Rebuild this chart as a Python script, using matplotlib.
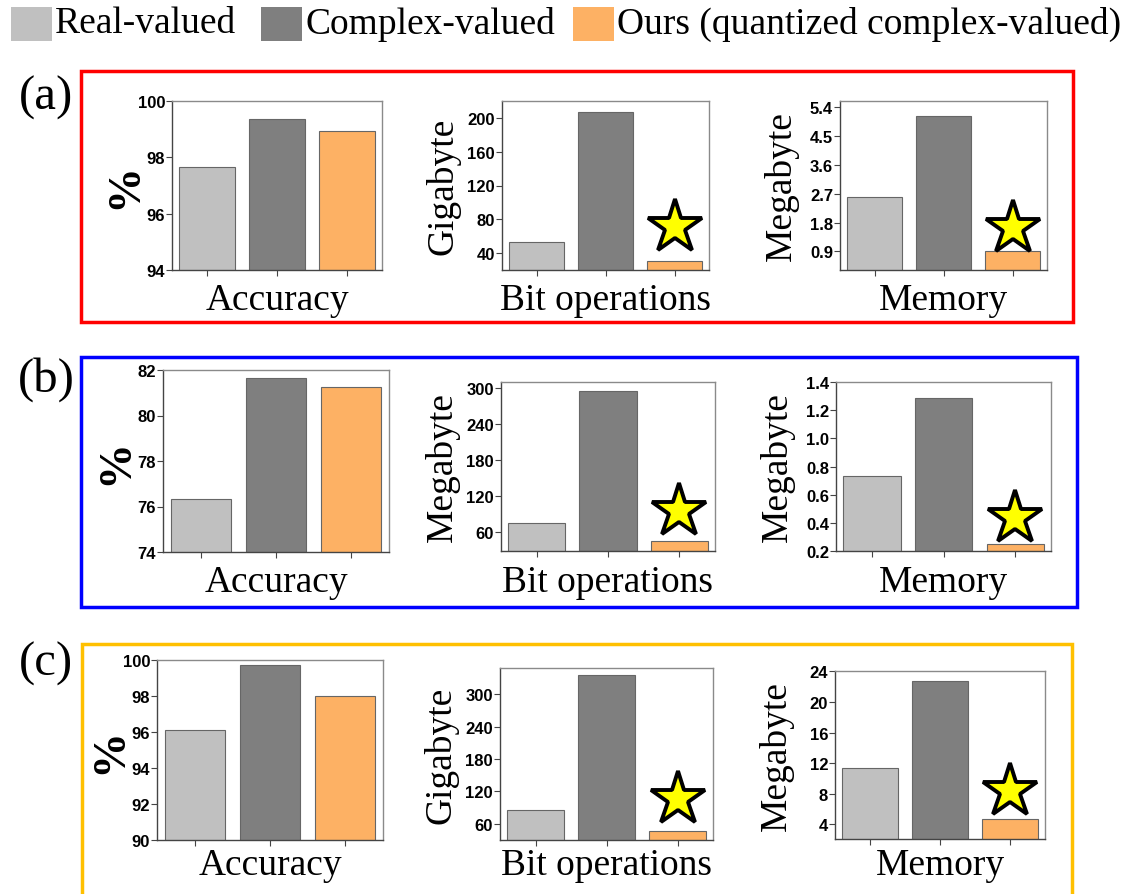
import numpy as np
import matplotlib
matplotlib.use("Agg")
import matplotlib.pyplot as plt
from matplotlib.patches import Rectangle
import matplotlib.transforms as mtransforms

## data
methods = ["Real-valued", "Complex-valued", "Ours (quantized complex-valued)"]
colors = ["#c0c0c0", "#7f7f7f", "#fdb164"]
metrics = ["Accuracy", "Bit operations", "Memory"]

acc_a = [97.66, 99.37, 98.93]
bitops_a = [53.3, 207.0, 31.0]
mem_a = [2.60, 5.13, 0.91]

acc_b = [76.31, 81.66, 81.25]
bitops_b = [75.0, 295.6, 44.0]
mem_b = [0.736, 1.287, 0.247]

acc_c = [96.09, 99.72, 97.98]
bitops_c = [85.2, 335.7, 46.5]
mem_c = [11.44, 22.72, 4.69]

units_a = ["%", "Gigabyte", "Megabyte"]
units_b = ["%", "Megabyte", "Megabyte"]
units_c = ["%", "Gigabyte", "Megabyte"]

ticks_a = [[94, 96, 98, 100], [40, 80, 120, 160, 200], [0.9, 1.8, 2.7, 3.6, 4.5, 5.4]]
ticks_b = [[74, 76, 78, 80, 82], [60, 120, 180, 240, 300], [0.2, 0.4, 0.6, 0.8, 1.0, 1.2, 1.4]]
ticks_c = [[90, 92, 94, 96, 98, 100], [60, 120, 180, 240, 300], [4, 8, 12, 16, 20, 24]]

ylims_a = [(94, 100), (20, 220), (0.32, 5.6)]
ylims_b = [(74, 82), (28, 310), (0.2, 1.4)]
ylims_c = [(90, 100), (30, 349), (2.1, 24.05)]

tickfmt = ["{:.0f}", "{:.0f}", "{:.1f}"]
tickfmt_c = ["{:.0f}", "{:.0f}", "{:.0f}"]

W, H = 1132, 895
fig = plt.figure(figsize=(W / 100, H / 100), dpi=100)

serif = "Liberation Serif"
sans = "Liberation Sans"


def rect(l, t, r, b):
    # pixel box -> figure fraction
    return [l / W, 1 - b / H, (r - l) / W, (b - t) / H]


def fx(x):
    return x / W


def fy(y):
    return 1 - y / H


def panel(boxes, values, units, ticks, ylims, fmts, star_fr, xlab_y):
    for i, (bx, vals) in enumerate(zip(boxes, values)):
        ax = fig.add_axes(rect(*bx))
        x = np.arange(1, 4)
        ax.bar(x, vals, width=0.8, color=colors, edgecolor="#666666", linewidth=0.8)
        ax.set_xlim(0.5, 3.5)
        ax.set_ylim(*ylims[i])
        ax.set_xticks(x)
        ax.set_xticklabels([])
        ax.set_yticks(ticks[i])
        ax.set_yticklabels([fmts[i].format(t) for t in ticks[i]],
                           fontfamily=sans, fontweight="bold", fontsize=12)
        ax.tick_params(direction="out", length=4, width=0.8, color="#444444", pad=1)
        for s in ["left", "bottom"]:
            ax.spines[s].set_color("#444444")
            ax.spines[s].set_linewidth(1.0)
        for s in ["top", "right"]:
            ax.spines[s].set_color("#8a8a8a")
            ax.spines[s].set_linewidth(1.0)

        if i > 0:
            # star sits above the "ours" bar
            trans = mtransforms.blended_transform_factory(ax.transData, ax.transAxes)
            ax.plot(3, star_fr[i - 1], marker="*", markersize=41, color="#ffff00",
                    markeredgecolor="black", markeredgewidth=2.8, transform=trans,
                    clip_on=False)

        l, t, r, b = bx
        cx = (l + r) / 2
        fig.text(fx(cx), fy(xlab_y), metrics[i], fontfamily=serif, fontsize=27,
                 ha="center", va="center")
        if units[i] == "%":
            fig.text(fx(l - 47), fy((t + b) / 2), "%", fontfamily=serif,
                     fontweight="bold", fontsize=33, rotation=90,
                     ha="center", va="center")
        else:
            fig.text(fx(l - 59), fy((t + b) / 2), units[i], fontfamily=serif,
                     fontsize=27, rotation=90, ha="center", va="center")


# (a)
panel([(172, 102, 382, 271), (502, 102, 709, 271), (840, 102, 1047, 271)],
      [acc_a, bitops_a, mem_a], units_a, ticks_a, ylims_a, tickfmt,
      [0.253, 0.25], 301)
# (b)
panel([(163, 371, 389, 553), (501, 383, 715, 552), (836, 383, 1051, 552)],
      [acc_b, bitops_b, mem_b], units_b, ticks_b, ylims_b, tickfmt,
      [0.238, 0.196], 583)
# (c)
panel([(157, 661, 383, 841), (500, 669, 713, 841), (835, 672, 1045, 840)],
      [acc_c, bitops_c, mem_c], units_c, ticks_c, ylims_c, tickfmt_c,
      [0.24, 0.287], 866)

# coloured frames around each panel
for (l, t, r, b), c in [((81, 72, 1073, 323), "#ff0000"),
                        ((81, 358, 1077, 608), "#0000ff"),
                        ((82, 645, 1072, 905), "#ffc000")]:
    fig.patches.append(Rectangle((fx(l), fy(b)), (r - l) / W, (b - t) / H,
                                 transform=fig.transFigure, fill=False,
                                 edgecolor=c, linewidth=2.5, zorder=0))

for lab, y in [("(a)", 98), ("(b)", 380), ("(c)", 664)]:
    fig.text(fx(46), fy(y), lab, fontfamily=serif, fontsize=35, ha="center", va="center")

# legend row
leg = [(11, 55), (261, 305), (573, 617)]
for (sx, tx), c, name in zip(leg, colors, methods):
    fig.patches.append(Rectangle((fx(sx), fy(42)), 41 / W, 34 / H,
                                 transform=fig.transFigure, facecolor=c,
                                 edgecolor="none"))
    fig.text(fx(tx), fy(24), name, fontfamily=serif, fontsize=27, ha="left", va="center")

fig.savefig("out.png", dpi=100)
